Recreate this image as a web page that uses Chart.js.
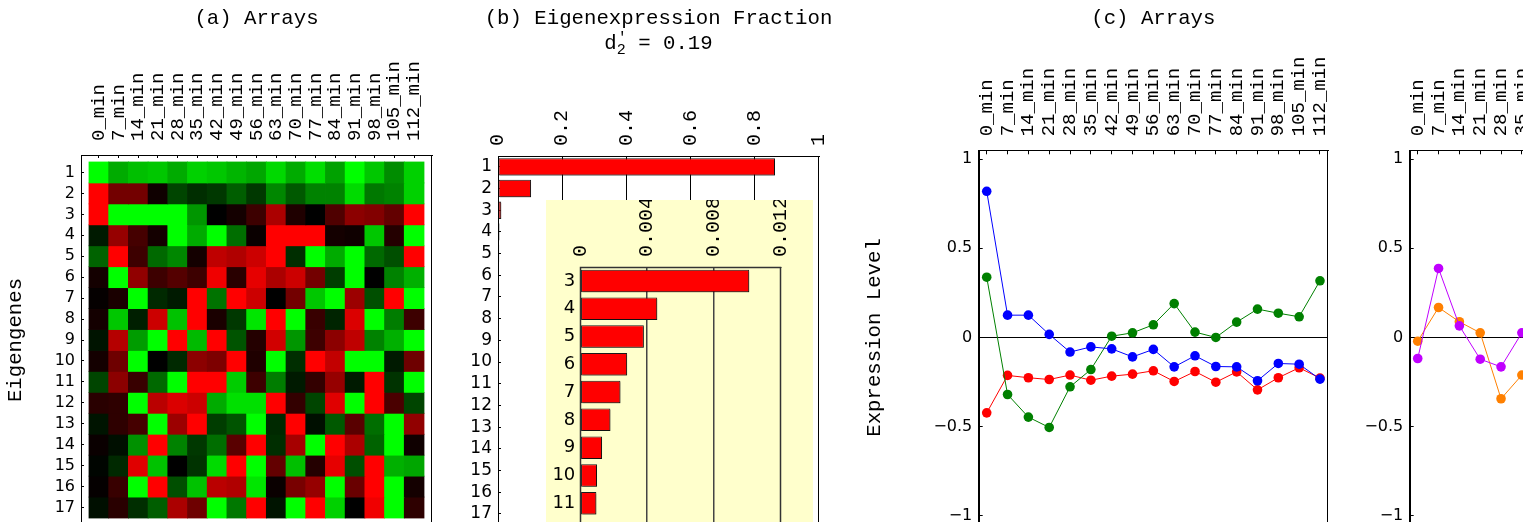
<!DOCTYPE html>
<html>
<head>
<meta charset="utf-8">
<script src="https://cdn.jsdelivr.net/npm/chart.js@4.4.0/dist/chart.umd.min.js"></script>
<style>
html, body { margin:0; padding:0; background:#fff; overflow:hidden; width:1523px; height:522px; position:relative; }
canvas { position:absolute; }
</style>
</head>
<body>
<canvas id="cA" width="440" height="560" style="left:0px;top:0px"></canvas>
<canvas id="cB" width="400" height="560" style="left:440px;top:0px"></canvas>
<canvas id="cInset" width="267" height="360" style="left:546px;top:200px;background:#ffffcc"></canvas>
<canvas id="cC" width="520" height="560" style="left:840px;top:0px"></canvas>
<canvas id="cD" width="470" height="560" style="left:1300px;top:0px"></canvas>
<script>
// ---------------- data ----------------
const arrayLabels = ['0_min','7_min','14_min','21_min','28_min','35_min','42_min','49_min','56_min','63_min','70_min','77_min','84_min','91_min','98_min','105_min','112_min'];
const eigengeneLabels = ['1','2','3','4','5','6','7','8','9','10','11','12','13','14','15','16','17'];

// eigengene x array pattern, >0 shown red, <0 shown green
const heatmapValues = [
  [-1.00,-0.67,-0.75,-0.78,-0.67,-0.82,-0.78,-0.71,-0.65,-0.85,-0.67,-0.87,-0.63,-1.00,-0.78,-0.55,-0.82],
  [ 1.00, 0.45, 0.45, 0.06,-0.27,-0.18,-0.22,-0.37,-0.22,-0.53,-0.35,-0.51,-0.51,-0.86,-0.47,-0.51,-0.82],
  [ 1.00,-1.00,-1.00,-1.00,-1.00,-0.59, 0.00, 0.08, 0.24, 0.67, 0.12, 0.00, 0.31, 0.55, 0.51, 0.39, 1.00],
  [-0.10, 0.59, 0.27, 0.08,-1.00,-0.67,-1.00,-0.43, 0.04, 1.00, 1.00, 1.00, 0.08, 0.06,-0.78, 0.14,-1.00],
  [-0.39, 1.00, 0.24,-0.41,-0.53, 0.08, 0.75, 0.69, 0.80, 1.00,-0.18,-1.00,-0.67,-1.00,-0.41,-0.31, 1.00],
  [ 0.08,-1.00, 0.57, 0.24, 0.33, 0.24, 0.94, 0.16, 0.90, 0.67, 0.80, 0.45,-0.24,-1.00, 0.00,-0.51,-0.69],
  [ 0.02, 0.10,-1.00,-0.16,-0.10, 1.00,-0.45, 1.00, 0.80, 0.00, 0.45,-0.78,-1.00, 0.61,-0.31, 1.00,-1.00],
  [ 0.08,-0.78,-0.12, 0.80,-0.76, 1.00, 0.10,-0.22,-0.90, 1.00,-1.00, 0.22,-0.14, 0.86,-1.00,-0.49, 0.24],
  [-0.08, 0.71,-0.61,-1.00, 1.00,-0.73, 1.00,-0.33, 0.14, 0.82,-0.59, 0.24, 0.55, 0.75,-0.51,-0.69,-1.00],
  [ 0.08, 0.43,-1.00, 0.00,-0.16, 0.55, 0.49, 1.00, 0.12,-1.00,-0.18, 1.00, 0.76,-1.00,-1.00,-0.10, 0.43],
  [-0.27, 0.55, 0.22,-0.41,-1.00, 1.00, 1.00,-0.80, 0.24,-0.49,-0.10, 0.20, 0.59,-0.10, 1.00,-0.20,-1.00],
  [ 0.16, 0.18,-1.00, 0.73, 0.86, 0.80,-0.67,-0.88,-0.88, 1.00, 0.20,-0.27, 0.88,-1.00, 1.00, 0.29,-0.27],
  [-0.08, 0.18, 0.27,-1.00, 0.61, 1.00,-0.24,-0.33,-1.00,-0.16, 1.00,-0.06,-0.35, 0.35,-0.43,-1.00, 0.57],
  [ 0.04,-0.06,-0.57, 1.00,-0.51,-0.22,-0.43, 0.35, 1.00,-0.18, 0.65,-1.00, 1.00, 0.67,-0.39,-1.00, 0.06],
  [-0.02,-0.16, 0.88,-0.76, 0.00,-0.20,-0.86, 1.00,-1.00, 0.39,-0.75, 0.14, 0.90,-0.31, 1.00,-0.69,-0.65],
  [ 0.02, 0.22,-1.00, 1.00,-0.31,-0.76, 0.73, 0.69,-0.90, 0.04, 0.47, 0.59,-1.00, 0.41, 1.00,-1.00, 0.08],
  [-0.06, 0.16,-0.18,-0.37, 0.67, 0.43,-1.00,-0.47, 1.00,-0.08,-1.00, 1.00,-0.82, 0.00, 0.94,-1.00, 0.18]
];

const eigenFractions = [0.863, 0.103, 0.0101, 0.0046, 0.0038, 0.0028, 0.0024, 0.0018, 0.0013, 0.0010, 0.00096, 0.0008, 0.0007, 0.0006, 0.0005, 0.0004, 0.0003];
const fractionTicks = [0, 0.2, 0.4, 0.6, 0.8, 1];
const fractionTickLabels = ['0', '0.2', '0.4', '0.6', '0.8', '1'];
const insetLabels = ['3','4','5','6','7','8','9','10','11'];
const insetFractions = [0.0101, 0.0046, 0.0038, 0.0028, 0.0024, 0.0018, 0.0013, 0.0010, 0.00096];
const insetTicks = [0, 0.004, 0.008, 0.012];
const insetTickLabels = ['0', '0.004', '0.008', '0.012'];

const seriesBlue  = [0.82, 0.125, 0.125, 0.017, -0.082, -0.053, -0.064, -0.109, -0.067, -0.165, -0.103, -0.163, -0.165, -0.243, -0.146, -0.150, -0.234];
const seriesGreen = [0.338, -0.320, -0.447, -0.505, -0.277, -0.180, 0.007, 0.026, 0.071, 0.190, 0.030, 0.000, 0.086, 0.159, 0.136, 0.116, 0.318];
const seriesRed   = [-0.423, -0.213, -0.226, -0.236, -0.211, -0.240, -0.217, -0.206, -0.187, -0.247, -0.191, -0.251, -0.193, -0.294, -0.226, -0.170, -0.228];
const seriesOrange = [-0.021, 0.168, 0.088, 0.026, -0.344, -0.211];
const seriesPurple = [-0.118, 0.387, 0.065, -0.122, -0.165, 0.026];
const expressionTicks = [-1, -0.5, 0, 0.5, 1];
const expressionTickLabels = ['\u22121', '\u22120.5', '0', '0.5', '1'];

// ---------------- styles ----------------
const MONO = "'Liberation Mono', 'Courier New', monospace";
const SANS = "'DejaVu Sans', sans-serif";
const TITLE_FONT = "20.7px " + MONO;

function heatColor(v) {
  return v >= 0 ? 'rgb(' + Math.round(255 * v) + ',0,0)' : 'rgb(0,' + Math.round(-255 * v) + ',0)';
}

const framePlugin = {
  id: 'frame',
  afterDraw(chart, args, opts) {
    const { ctx, chartArea: a } = chart;
    ctx.save();
    ctx.strokeStyle = opts.color || '#000';
    ctx.lineWidth = opts.width || 1;
    const l = Math.round(a.left) + 0.5, t = Math.round(a.top) + 0.5;
    const r = Math.round(a.right) - 0.5, b = Math.round(a.bottom) - 0.5;
    ctx.strokeRect(l, t, r - l, b - t);
    ctx.restore();
  }
};

const textPlugin = {
  id: 'texts',
  afterDraw(chart, args, opts) {
    const { ctx, chartArea: a } = chart;
    for (const it of (opts.items || [])) {
      ctx.save();
      ctx.fillStyle = '#000';
      const cx = it.x != null ? it.x : (a.left + a.right) / 2;
      const cy = it.y != null ? it.y : (a.top + a.bottom) / 2;
      ctx.translate(cx, cy);
      if (it.rotate) ctx.rotate(it.rotate);
      if (it.parts) {
        let w = 0;
        const ws = it.parts.map(p => { ctx.font = p.font; const pw = ctx.measureText(p.text).width; if (p.advance !== false) w += pw; return pw; });
        let x = -w / 2;
        ctx.textAlign = 'left'; ctx.textBaseline = 'alphabetic';
        it.parts.forEach((p, i) => {
          ctx.font = p.font;
          ctx.fillText(p.text, x + (p.dx || 0), p.dy || 0);
          if (p.advance !== false) x += ws[i];
        });
      } else {
        ctx.font = it.font;
        ctx.textAlign = 'center';
        ctx.textBaseline = 'middle';
        ctx.fillText(it.text, 0, 0);
      }
      ctx.restore();
    }
  }
};

const shadowPlugin = {
  id: 'barShadow',
  beforeDatasetsDraw(chart) {
    const ctx = chart.ctx;
    ctx.save();
    ctx.shadowColor = 'rgba(0,0,0,0.35)';
    ctx.shadowOffsetX = 1.5;
    ctx.shadowOffsetY = 1.5;
    ctx.shadowBlur = 0;
  },
  afterDatasetsDraw(chart) { chart.ctx.restore(); }
};

const common = {
  responsive: false,
  animation: false,
  devicePixelRatio: 1,
  events: []
};

// ---------------- (a) heatmap ----------------
new Chart(document.getElementById('cA'), {
  type: 'bar',
  data: {
    datasets: heatmapValues.map((row, r) => ({
      label: eigengeneLabels[r],
      data: row.map((v, c) => ({ x: c, y: 1 })),
      backgroundColor: row.map(heatColor),
      borderWidth: 0,
      barPercentage: 1,
      categoryPercentage: 1,
      inflateAmount: 0.4
    }))
  },
  options: Object.assign({}, common, {
    layout: { padding: { left: 0, top: 0, right: 8, bottom: 35 } },
    plugins: {
      legend: { display: false }, tooltip: { enabled: false }, title: { display: false },
      frame: {},
      texts: { items: [
        { text: '(a) Arrays', font: TITLE_FONT, y: 18.5 },
        { text: 'Eigengenes', font: TITLE_FONT, x: 16, rotate: -Math.PI / 2 }
      ] }
    },
    scales: {
      x: {
        type: 'linear', position: 'top', stacked: true, offset: false, min: -0.906, max: 16.906,
        afterBuildTicks: s => { s.ticks = arrayLabels.map((_, i) => ({ value: i })); },
        afterFit: s => { s.height = 155; },
        ticks: { autoSkip: false, minRotation: 90, maxRotation: 90, padding: 17, labelOffset: 19, color: '#000',
                 font: { family: MONO, size: 19, lineHeight: 1 }, callback: (v, i) => arrayLabels[i] },
        grid: { drawOnChartArea: false, offset: false, tickLength: -3, color: '#000' },
        border: { color: '#000' }
      },
      y: {
        type: 'linear', reverse: true, stacked: true, offset: false, min: -0.334, max: 17.334,
        afterBuildTicks: s => { s.ticks = eigengeneLabels.map((_, i) => ({ value: i + 0.5 })); },
        afterFit: s => { s.width = 81; },
        ticks: { autoSkip: false, padding: 9, color: '#000', font: { family: SANS, size: 16 },
                 callback: (v, i) => eigengeneLabels[i] },
        grid: { drawOnChartArea: false, tickLength: -3, color: '#000' },
        border: { color: '#000' }
      }
    }
  }),
  plugins: [framePlugin, textPlugin]
});

// ---------------- (b) eigenexpression fraction ----------------
new Chart(document.getElementById('cB'), {
  type: 'bar',
  data: {
    labels: eigengeneLabels,
    datasets: [{ data: eigenFractions, backgroundColor: '#ff0000', borderColor: '#1a1a1a', borderWidth: 1,
                 borderSkipped: false, barPercentage: 0.8, categoryPercentage: 1 }]
  },
  options: Object.assign({}, common, {
    indexAxis: 'y',
    layout: { padding: { left: 0, top: 0, right: 21, bottom: 35.3 } },
    plugins: {
      legend: { display: false }, tooltip: { enabled: false }, title: { display: false },
      frame: {},
      texts: { items: [
        { text: '(b) Eigenexpression Fraction', font: TITLE_FONT, y: 18.5 },
        { y: 49, parts: [
          { text: 'd', font: TITLE_FONT },
          { text: '\u2032', font: '15px ' + MONO, dy: -7, dx: 1, advance: false },
          { text: '2', font: '15px ' + MONO, dy: 5 },
          { text: ' = 0.19', font: TITLE_FONT }
        ] }
      ] }
    },
    scales: {
      x: {
        type: 'linear', position: 'top', min: 0, max: 1,
        afterBuildTicks: s => { s.ticks = fractionTicks.map(v => ({ value: v })); },
        afterFit: s => { s.height = 156; },
        ticks: { autoSkip: false, minRotation: 90, maxRotation: 90, padding: 10, labelOffset: 20, color: '#000',
                 font: { family: MONO, size: 20, lineHeight: 1 }, callback: (v, i) => fractionTickLabels[i] },
        grid: { drawTicks: false, lineWidth: 1,
                color: c => (c.tick && c.tick.value > 0 && c.tick.value < 1) ? '#000' : 'rgba(0,0,0,0)' },
        border: { color: '#000' }
      },
      y: {
        afterFit: s => { s.width = 58; },
        ticks: { autoSkip: false, padding: 9, color: '#000', font: { family: SANS, size: 17 } },
        grid: { drawOnChartArea: false, offset: false, tickLength: -3, color: '#000' },
        border: { color: '#000' }
      }
    }
  }),
  plugins: [shadowPlugin, framePlugin, textPlugin]
});

// ---------------- (b) inset ----------------
new Chart(document.getElementById('cInset'), {
  type: 'bar',
  data: {
    datasets: [{ data: insetFractions.map((v, i) => ({ x: v, y: i })), backgroundColor: '#ff0000', borderColor: '#1a1a1a', borderWidth: 1,
                 borderSkipped: false, barPercentage: 0.81, categoryPercentage: 1 }]
  },
  options: Object.assign({}, common, {
    indexAxis: 'y',
    layout: { padding: { left: 0, top: 0, right: 32, bottom: 29 } },
    plugins: {
      legend: { display: false }, tooltip: { enabled: false }, title: { display: false },
      frame: { color: '#333', width: 1.5 }
    },
    scales: {
      x: {
        type: 'linear', position: 'top', min: 0, max: 0.012,
        afterBuildTicks: s => { s.ticks = insetTicks.map(v => ({ value: v })); },
        afterFit: s => { s.height = 67; },
        ticks: { autoSkip: false, minRotation: 90, maxRotation: 90, padding: 10, labelOffset: 20, color: '#000',
                 font: { family: MONO, size: 20, lineHeight: 1 }, callback: (v, i) => insetTickLabels[i] },
        grid: { drawTicks: false, lineWidth: 1.5,
                color: c => (c.tick && c.tick.value > 0 && c.tick.value < 0.012) ? '#444' : 'rgba(0,0,0,0)' },
        border: { color: '#333' }
      },
      y: {
        type: 'linear', reverse: true, offset: false, min: -0.5, max: 9.0,
        afterBuildTicks: s => { s.ticks = insetLabels.map((_, i) => ({ value: i })); },
        afterFit: s => { s.width = 34.3; },
        ticks: { autoSkip: false, padding: 5, color: '#000', font: { family: SANS, size: 18 },
                 callback: (v, i) => insetLabels[i] },
        grid: { drawOnChartArea: false, drawTicks: false },
        border: { color: '#333' }
      }
    }
  }),
  plugins: [shadowPlugin, framePlugin]
});

// ---------------- (c) / (d) line charts ----------------
function lineDataset(values, color) {
  return {
    data: values.map((v, i) => ({ x: i, y: v })),
    borderColor: color, backgroundColor: color, borderWidth: 1,
    pointRadius: 4.8, pointBorderWidth: 0, pointBackgroundColor: color, tension: 0
  };
}

function lineOptions(leftWidth, rightPad, items) {
  return Object.assign({}, common, {
    layout: { padding: { left: 0, top: 0, right: rightPad, bottom: 35.4 } },
    plugins: {
      legend: { display: false }, tooltip: { enabled: false }, title: { display: false },
      frame: {},
      texts: { items: items }
    },
    scales: {
      x: {
        type: 'linear', position: 'top', min: -0.385, max: 16.385,
        afterBuildTicks: s => { s.ticks = arrayLabels.map((_, i) => ({ value: i })); },
        afterFit: s => { s.height = 150.3; },
        ticks: { autoSkip: false, minRotation: 90, maxRotation: 90, padding: 18, labelOffset: 19, color: '#000',
                 font: { family: MONO, size: 19, lineHeight: 1 }, callback: (v, i) => arrayLabels[i] },
        grid: { drawOnChartArea: false, tickLength: -4, color: '#000' },
        border: { color: '#000' }
      },
      y: {
        type: 'linear', min: -1.05, max: 1.05,
        afterBuildTicks: s => { s.ticks = expressionTicks.map(v => ({ value: v })); },
        afterFit: s => { s.width = leftWidth; },
        ticks: { autoSkip: false, padding: 10.4, color: '#000', font: { family: SANS, size: 16 },
                 callback: (v, i) => expressionTickLabels[i] },
        grid: { tickLength: -4, tickColor: '#000', lineWidth: 1,
                color: c => (c.tick && c.tick.value === 0) ? '#000' : 'rgba(0,0,0,0)' },
        border: { color: '#000' }
      }
    }
  });
}

new Chart(document.getElementById('cC'), {
  type: 'line',
  data: { datasets: [
    lineDataset(seriesBlue, '#0000ff'),
    lineDataset(seriesGreen, '#008000'),
    lineDataset(seriesRed, '#ff0000')
  ] },
  options: lineOptions(138.7, 32, [
    { text: '(c) Arrays', font: TITLE_FONT, y: 18.5 },
    { text: 'Expression Level', font: TITLE_FONT, x: 35, rotate: -Math.PI / 2 }
  ]),
  plugins: [framePlugin, textPlugin]
});

new Chart(document.getElementById('cD'), {
  type: 'line',
  data: { datasets: [
    lineDataset(seriesPurple, '#c000ff'),
    lineDataset(seriesOrange, '#ff8000')
  ] },
  options: lineOptions(109.7, 11, []),
  plugins: [framePlugin, textPlugin]
});
</script>
</body>
</html>
